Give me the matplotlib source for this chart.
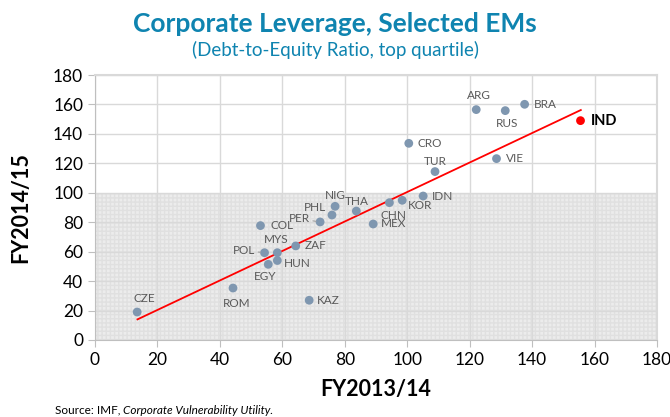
import numpy as np
import matplotlib
matplotlib.use("Agg")
import matplotlib.pyplot as plt

plt.rcParams['font.family'] = ['Lato', 'DejaVu Sans']

countries = ["CZE", "ROM", "KAZ", "EGY", "HUN", "MYS", "POL", "ZAF", "COL", "PER",
             "PHL", "NIG", "THA", "MEX", "CHN", "KOR", "IDN", "TUR", "CRO", "VIE",
             "ARG", "RUS", "BRA", "IND"]
fy1314 = [13.5, 44.2, 68.6, 55.5, 58.4, 58.4, 54.3, 64.3, 53.0, 72.1,
          75.9, 76.9, 83.7, 89.1, 94.3, 98.4, 105.1, 108.9, 100.5, 128.6,
          122.1, 131.4, 137.6, 155.5]
fy1415 = [19.0, 35.3, 27.0, 51.4, 54.0, 59.3, 59.3, 63.9, 77.7, 80.2,
          84.9, 90.8, 87.6, 78.8, 93.3, 94.9, 97.8, 114.4, 133.6, 123.2,
          156.5, 155.8, 160.1, 149.0]
trend_x = [13.6, 155.6]
trend_y = [14.0, 156.2]
ticks = [0, 20, 40, 60, 80, 100, 120, 140, 160, 180]

# label placement: (dx px, dy px, ha)
offsets = {
    "CZE": (7, 14, "center"), "ROM": (4, -15, "center"), "KAZ": (8, 0, "left"),
    "EGY": (-3, -12, "center"), "HUN": (7, -3, "left"), "MYS": (-1, 13, "center"),
    "POL": (-9, 2, "right"), "ZAF": (9, 0, "left"), "COL": (10, 0, "left"),
    "PER": (-10, 3, "right"), "PHL": (-6, 8, "right"), "NIG": (0, 11, "center"),
    "THA": (1, 10, "center"), "MEX": (8, 0, "left"), "CHN": (4, -13, "center"),
    "KOR": (6, -5, "left"), "IDN": (9, 0, "left"), "TUR": (0, 10, "center"),
    "CRO": (9, 0, "left"), "VIE": (9, 0, "left"), "ARG": (3, 14, "center"),
    "RUS": (2, -13, "center"), "BRA": (9, 0, "left"), "IND": (10, 0, "left"),
}
leaders = {"POL", "PER"}

fig = plt.figure(figsize=(6.7, 4.17), dpi=100)
ax = fig.add_axes([95/670, 1-340/417, (657-95)/670, (340-75)/417])
ax.set_xlim(0, 180)
ax.set_ylim(0, 180)

ax.axhspan(0, 100, facecolor='#ececec', edgecolor='#e0e0e0', hatch='++++', lw=0, zorder=0)
ax.set_xticks(ticks)
ax.set_yticks(ticks)
ax.grid(True, color='#d9d9d9', lw=1, zorder=0.5)
ax.set_axisbelow(True)

for s in ['top', 'right']:
    ax.spines[s].set_color('#d9d9d9')
    ax.spines[s].set_linewidth(1.5)
for s in ['left', 'bottom']:
    ax.spines[s].set_color('#bfbfbf')
ax.tick_params(axis='both', colors='#bfbfbf', length=5, labelsize=12.5, labelcolor='black')

x = np.array(fy1314)
y = np.array(fy1415)
ax.plot(trend_x, trend_y, color='#ff0000', lw=1.3, zorder=2)

cols = ['#ff0000' if c == 'IND' else '#7f97b0' for c in countries]
ax.scatter(x, y, s=40, c=cols, zorder=3, linewidths=0)

for c, xi, yi in zip(countries, x, y):
    dx, dy, ha = offsets[c]
    kw = dict(textcoords='offset points', xytext=(dx*0.72, dy*0.72), ha=ha, va='center')
    if c == 'IND':
        ax.annotate(c, (xi, yi), fontsize=10.5, fontweight='bold', color='black', **kw)
    else:
        if c in leaders:
            kw['arrowprops'] = dict(arrowstyle='-', color='#a0a0a0', lw=0.8, shrinkA=0, shrinkB=3)
        ax.annotate(c, (xi, yi), fontsize=8.5, color='#595959', **kw)

ax.set_xlabel("FY2013/14", fontsize=15.5, fontweight='bold', labelpad=8)
ax.set_ylabel("FY2014/15", fontsize=15.5, fontweight='bold', labelpad=16)

fig.text(0.5, 1-24/417, "Corporate Leverage, Selected EMs", ha='center', va='center',
         fontsize=19, fontweight='bold', color='#0f84b0')
fig.text(0.5, 1-50/417, "(Debt-to-Equity Ratio, top quartile)", ha='center', va='center',
         fontsize=13.5, color='#0f84b0')

t1 = fig.text(55/670, 1-410/417, "Source: IMF, ", ha='left', va='center', fontsize=8.5)
fig.canvas.draw()
bb = t1.get_window_extent()
fig.text(bb.x1/670, 1-410/417, "Corporate Vulnerability Utility.", ha='left', va='center',
         fontsize=8.5, style='italic')

fig.savefig("out.png", dpi=100)
